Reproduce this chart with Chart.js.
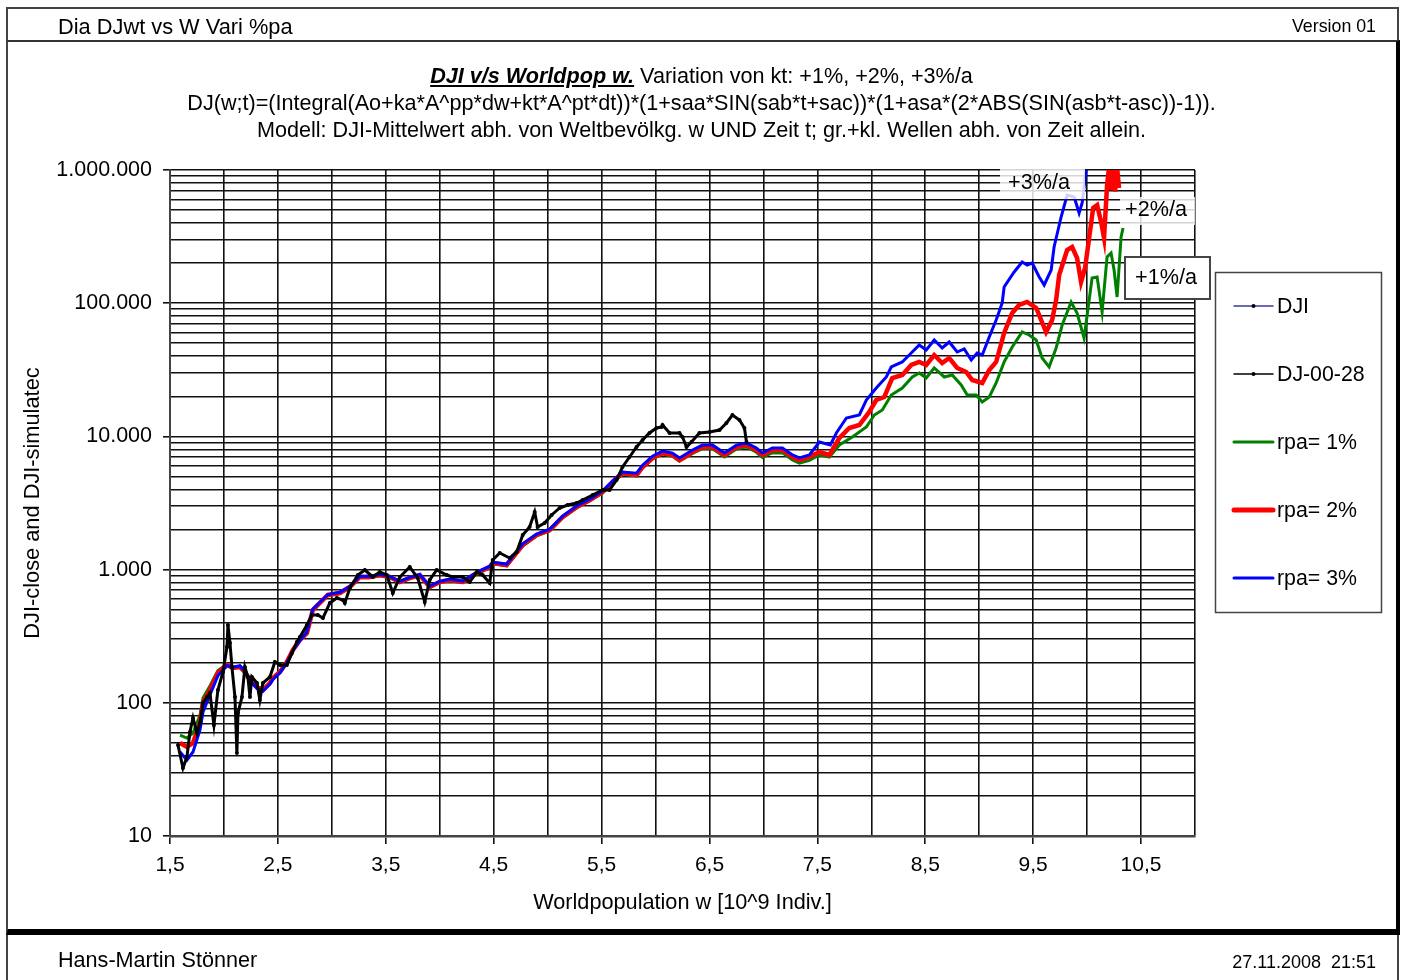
<!DOCTYPE html>
<html>
<head>
<meta charset="utf-8">
<script src="https://cdn.jsdelivr.net/npm/chart.js@4.4.1/dist/chart.umd.min.js"></script>
<style>
html,body{margin:0;padding:0;background:#fff;}
body{width:1405px;height:980px;position:relative;overflow:hidden;font-family:"Liberation Sans",Arial,sans-serif;color:#000;}
#outer{position:absolute;left:6px;top:7px;width:1393px;height:1000px;border:2px solid #444;border-bottom:none;box-sizing:border-box;z-index:0;}
#box{position:absolute;left:6px;top:40px;width:1394px;height:895px;border-top:2px solid #333;border-left:2px solid #444;border-right:4px solid #000;border-bottom:6px solid #000;box-sizing:border-box;z-index:0;}
canvas{position:absolute;left:0;top:0;z-index:1;}
.txt{position:absolute;white-space:pre;z-index:2;line-height:24px;}
.ctr{left:0;width:1403px;text-align:center;font-size:21.6px;line-height:24px;}
</style>
</head>
<body>
<div id="outer"></div>
<div id="box"></div>
<div class="txt" style="left:58px;top:15px;font-size:21.8px;">Dia DJwt vs W Vari %pa</div>
<div class="txt" style="right:29px;top:14px;font-size:17.8px;">Version 01</div>
<div class="txt ctr" style="top:64px;"><b><i><u>DJI v/s Worldpop w.</u></i></b> Variation von kt: +1%, +2%, +3%/a</div>
<div class="txt ctr" style="top:91px;">DJ(w;t)=(Integral(Ao+ka*A^pp*dw+kt*A^pt*dt))*(1+saa*SIN(sab*t+sac))*(1+asa*(2*ABS(SIN(asb*t-asc))-1)).</div>
<div class="txt ctr" style="top:118px;">Modell: DJI-Mittelwert abh. von Weltbevölkg. w UND Zeit t; gr.+kl. Wellen abh. von Zeit allein.</div>
<div class="txt" style="left:58px;top:948px;font-size:21.6px;">Hans-Martin Stönner</div>
<div class="txt" style="right:29px;top:950px;font-size:18px;">27.11.2008  21:51</div>
<canvas id="c" width="1405" height="980"></canvas>
<script>
// ---------- data ----------
const xTitle = 'Worldpopulation w [10^9 Indiv.]';
const yTitle = 'DJI-close and DJI-simulatec';
const seriesLabels = ['DJI', 'DJ-00-28', 'rpa= 1%', 'rpa= 2%', 'rpa= 3%'];
const rateLabels = ['+3%/a', '+2%/a', '+1%/a'];

// DJ close 1900-1928 (world population w, index value)
const w0028 = [1.574,1.620,1.657,1.685,1.713,1.750,1.778,1.806,1.843,1.870,1.907,1.944,1.991,2.028];
const v0028 = [48.2,32.4,39.2,60.4,76.9,59.3,70.5,99.7,110.5,118.5,68.1,124.8,170.3,262];

// DJI close 1928-2008
const wDJI = [2.028,2.037,2.056,2.074,2.102,2.120,2.130,2.167,2.194,2.222,
  2.241,2.259,2.306,2.333,2.361,2.426,2.472,2.519,2.583,2.630,
  2.676,2.704,2.769,2.815,2.870,2.917,2.981,3.046,3.102,3.120,
  3.167,3.241,3.306,3.380,3.444,3.509,3.565,3.630,3.722,3.796,
  3.861,3.907,3.972,4.065,4.120,4.213,4.278,4.343,4.398,4.463,
  4.491,4.556,4.648,4.713,4.769,4.833,4.880,4.907,4.972,5.037,
  5.111,5.185,5.269,5.324,5.417,5.509,5.574,5.639,5.694,5.759,
  5.824,5.880,5.944,6.009,6.056,6.065,6.130,6.222,6.250,6.287,
  6.333,6.407,6.500,6.593,6.657,6.713,6.778,6.824,6.843];
const vDJI = [262,384,281,185.7,110.5,42,83.8,110.5,185.7,156.2,
  110.5,156.2,140.8,105,140.8,156.2,202.5,192.2,192.2,236.5,
  286,312,384,456,456,433,561,612,591,561,
  728,911,993,880,959,911,667,880,1046,865,
  571,836,993,911,880,880,807,959,911,793,
  1181,1332,1222,1356,1819,2088,2707,2088,2238,2570,
  2901,3055,3162,3331,3632,3959,3959,4708,5893,7005,
  8327,9397,10605,11565,11766,12180,10605,10605,9897,8327,
  9078,10605,10790,11170,12605,14475,13280,11565,9078];

// simulated, rpa = 1 %
const wR1 = [1.593,1.657,1.713,1.778,1.806,1.870,1.944,2.028,2.083,2.148,
  2.194,2.241,2.306,2.361,2.426,2.454,2.519,2.583,2.639,2.704,
  2.769,2.824,2.963,3.074,3.167,3.259,3.352,3.444,3.537,3.630,
  3.722,3.815,3.907,4.000,4.093,4.213,4.343,4.463,4.491,4.620,
  4.769,4.898,5.019,5.139,5.269,5.389,5.509,5.602,5.694,5.824,
  5.880,5.972,6.065,6.157,6.222,6.343,6.435,6.528,6.639,6.750,
  6.843,6.935,6.991,7.083,7.176,7.269,7.333,7.426,7.519,7.611,
  7.704,7.824,7.954,8.028,8.102,8.185,8.287,8.380,8.444,8.509,
  8.583,8.676,8.750,8.833,8.889,8.972,9.028,9.093,9.157,9.231,
  9.306,9.398,9.463,9.528,9.583,9.648,9.713,9.769,9.852,9.907,
  9.972,10.019,10.046,10.093,10.139,10.185,10.222,10.250,10.278,10.315,
  10.333];
const vR1 = [57.3,54.4,59.3,81,108.7,133.7,175,195,184,184,
  169,148,132,126,142,155,172,204,250,298,
  332,492,640,660,732,870,870,900,870,800,
  855,900,732,800,826,798,930,1032,1105,1068,
  1505,1790,1950,2440,2900,3270,3760,4470,5220,5040,
  5790,6770,7380,7100,6500,7450,8100,8080,7020,8050,
  8320,7600,6950,7550,7520,6650,6300,6600,7252,7005,
  8619,9897,11766,14475,15780,20450,23090,27930,29920,27440,
  32620,27930,28910,24310,20450,20450,18130,19760,25170,36200,
  46890,60790,57730,52930,38790,33190,46100,68600,102100,84420,
  54800,105700,154600,157300,85870,222300,238200,177500,111300,314100,
  366900];

// simulated, rpa = 2 %
const wR2 = [1.593,1.657,1.713,1.778,1.806,1.870,1.944,2.028,2.083,2.148,
  2.194,2.241,2.306,2.361,2.426,2.454,2.519,2.583,2.639,2.704,
  2.769,2.824,2.963,3.074,3.167,3.259,3.352,3.444,3.537,3.630,
  3.722,3.815,3.907,4.000,4.093,4.213,4.343,4.463,4.491,4.620,
  4.769,4.898,5.019,5.139,5.269,5.389,5.509,5.602,5.694,5.824,
  5.880,5.972,6.065,6.157,6.222,6.343,6.435,6.528,6.639,6.750,
  6.843,6.935,6.991,7.083,7.176,7.269,7.333,7.426,7.519,7.611,
  7.704,7.796,7.889,7.981,8.046,8.120,8.194,8.287,8.370,8.444,
  8.509,8.583,8.657,8.722,8.796,8.880,8.935,9.028,9.093,9.157,
  9.231,9.306,9.370,9.444,9.528,9.620,9.676,9.713,9.741,9.815,
  9.861,9.907,9.944,9.981,10.019,10.056,10.093,10.130,10.157,10.185,
  10.204,10.222,10.241,10.259,10.278,10.296];
const vR2 = [49.9,46.6,49.9,70.5,99.7,124.8,167.4,192.2,182.5,185.7,
  170.3,148.3,131.4,124.8,140.8,153.5,170.3,202.5,249,296,
  334,498,645,667,740,880,880,911,880,807,
  865,911,740,807,836,807,943,1046,1121,1083,
  1530,1819,1983,2483,2951,3331,3824,4548,5312,5132,
  5893,6885,7508,7252,6651,7638,8327,8327,7252,8327,
  8619,7906,7252,7906,7906,7005,6651,7005,7638,7252,
  9728,11565,12180,15250,18760,19760,27440,28910,34360,36200,
  34360,40840,35570,38790,32620,30440,26510,25170,31510,36200,
  59750,84420,96940,102100,92050,60790,74770,105700,162800,250800,
  264200,218400,144300,183800,308700,518400,546000,406900,308700,771600,
  1050000,707700,1050000,690000,1040000,732500];

// simulated, rpa = 3 %
const wR3 = [1.593,1.657,1.713,1.778,1.806,1.870,1.944,2.028,2.083,2.148,
  2.194,2.241,2.306,2.361,2.426,2.454,2.519,2.583,2.639,2.704,
  2.769,2.824,2.963,3.074,3.167,3.259,3.352,3.444,3.537,3.630,
  3.722,3.815,3.907,4.000,4.093,4.213,4.343,4.463,4.491,4.620,
  4.769,4.898,5.019,5.139,5.269,5.389,5.509,5.602,5.694,5.824,
  5.880,5.972,6.065,6.157,6.222,6.343,6.435,6.528,6.639,6.750,
  6.843,6.935,6.991,7.083,7.176,7.269,7.333,7.426,7.519,7.620,
  7.676,7.769,7.889,7.954,8.046,8.139,8.185,8.287,8.370,8.444,
  8.509,8.583,8.657,8.722,8.796,8.861,8.926,8.981,9.028,9.093,
  9.157,9.213,9.231,9.324,9.398,9.444,9.491,9.556,9.602,9.667,
  9.694,9.759,9.815,9.880,9.926,9.954,9.991,10.010];
const vR3 = [42.7,37.2,42.7,62.5,85.3,114.4,160,190,185,190,
  172,146,128,122,138,150,168,200,246,293,
  340,505,650,675,750,890,890,920,890,815,
  875,920,750,815,850,820,955,1060,1135,1100,
  1560,1850,2010,2520,3000,3380,3880,4620,5400,5300,
  6080,7100,7750,7500,6880,7900,8600,8600,7500,8600,
  8900,8180,7500,8180,8180,7250,6900,7250,9078,8619,
  10605,13750,14475,18760,23090,27930,33190,36200,42280,48560,
  44540,52930,46100,51130,43010,45320,37470,42280,40840,55750,
  74770,100300,132400,171500,203900,193600,200400,157300,137000,177500,
  264200,443700,649200,627000,475500,565300,1000000,1400000];

// ---------- chart ----------
const FONT = "'Liberation Sans', Arial, sans-serif";
Chart.defaults.font.family = FONT;
Chart.defaults.color = '#000';

function pts(ws, vs) { return ws.map((w, i) => ({ x: w, y: vs[i] })); }
function isDecade(v) { const l = Math.log10(v); return Math.abs(l - Math.round(l)) < 1e-9; }
function isXLabel(v) { const r = (v - 1.5) % 1; return Math.abs(r) < 1e-6 || Math.abs(r - 1) < 1e-6; }
function fmtDe(v) { return String(Math.round(v)).replace(/\B(?=(\d{3})+(?!\d))/g, '.'); }

const yTicks = [];
for (let e = 1; e <= 5; e++) for (let s = 1; s <= 9; s++) yTicks.push(s * Math.pow(10, e));
yTicks.push(1000000);

const datasets = [
  { label: seriesLabels[0], data: pts(wDJI, vDJI), borderColor: '#000', backgroundColor: '#000',
    borderWidth: 3, pointRadius: 2, pointBorderWidth: 0, legendColor: '#3a3a9a', legendWidth: 1.5, legendDot: true, order: 0 },
  { label: seriesLabels[1], data: pts(w0028, v0028), borderColor: '#000', backgroundColor: '#000',
    borderWidth: 3, pointRadius: 2, pointBorderWidth: 0, legendColor: '#000', legendWidth: 1.5, legendDot: true, order: 0 },
  { label: seriesLabels[2], data: pts(wR1, vR1), borderColor: '#008000', borderWidth: 3, pointRadius: 0, legendWidth: 3, order: 3 },
  { label: seriesLabels[3], data: pts(wR2, vR2), borderColor: '#ff0000', borderWidth: 4.5, pointRadius: 0, legendWidth: 5, order: 2 },
  { label: seriesLabels[4], data: pts(wR3, vR3), borderColor: '#0000ff', borderWidth: 3, pointRadius: 0, legendWidth: 3, order: 1 }
];
datasets.forEach(d => { d.fill = false; d.tension = 0; d.clip = 0; });

const overlayPlugin = {
  id: 'overlay',
  afterDatasetsDraw(chart) {
    const ctx = chart.ctx;
    const boxes = [
      { x: 1000, y: 168, w: 85, h: 31, tx: 1039, ty: 183, border: false },
      { x: 1120, y: 197, w: 75, h: 28, tx: 1156, ty: 210, border: false },
      { x: 1125, y: 257, w: 85, h: 42, tx: 1166, ty: 278, border: true }
    ];
    ctx.save();
    boxes.forEach((b, i) => {
      ctx.fillStyle = b.border ? '#fff' : 'rgba(255,255,255,0.82)';
      ctx.fillRect(b.x, b.y, b.w, b.h);
      if (b.border) { ctx.strokeStyle = '#444'; ctx.lineWidth = 2; ctx.strokeRect(b.x, b.y, b.w, b.h); }
      ctx.fillStyle = '#000';
      ctx.font = '21.6px ' + FONT;
      ctx.textAlign = 'center'; ctx.textBaseline = 'middle';
      ctx.fillText(rateLabels[i], b.tx, b.ty);
    });
    ctx.restore();
  },
  afterDraw(chart) {
    const ctx = chart.ctx;
    ctx.save();
    ctx.fillStyle = '#fff';
    ctx.fillRect(1215, 272, 166, 340);
    ctx.strokeStyle = '#444'; ctx.lineWidth = 1.5;
    ctx.strokeRect(1215.5, 272.5, 166, 340);
    const ys = [306, 374, 442, 510, 578];
    chart.data.datasets.forEach((d, i) => {
      const y = ys[i];
      ctx.strokeStyle = d.legendColor || d.borderColor;
      ctx.lineWidth = d.legendWidth;
      ctx.lineCap = 'round';
      ctx.beginPath(); ctx.moveTo(1234, y); ctx.lineTo(1273, y); ctx.stroke();
      if (d.legendDot) {
        ctx.fillStyle = '#000';
        ctx.beginPath(); ctx.arc(1253.5, y, 2, 0, Math.PI * 2); ctx.fill();
      }
      ctx.fillStyle = '#000';
      ctx.font = '21.3px ' + FONT;
      ctx.textAlign = 'left'; ctx.textBaseline = 'middle';
      ctx.fillText(d.label, 1277, y + 1);
    });
    ctx.restore();
  }
};

new Chart(document.getElementById('c'), {
  type: 'line',
  data: { datasets },
  options: {
    responsive: false,
    animation: false,
    devicePixelRatio: 1,
    parsing: true,
    layout: { padding: { left: 10, top: 170, right: 210, bottom: 64 } },
    plugins: { legend: { display: false }, tooltip: { enabled: false }, title: { display: false } },
    scales: {
      x: {
        type: 'linear', min: 1.5, max: 11,
        ticks: {
          stepSize: 0.5, autoSkip: false, maxRotation: 0, padding: 9,
          font: { size: 21 }, color: '#000',
          callback: v => isXLabel(v) ? v.toFixed(1).replace('.', ',') : ''
        },
        grid: {
          color: '#111', lineWidth: 1.6, tickLength: 8,
          tickColor: c => (c.tick && isXLabel(c.tick.value)) ? '#111' : 'rgba(0,0,0,0)'
        },
        border: { color: '#444', width: 2.5 },
        title: { display: true, text: xTitle, font: { size: 21.7 }, color: '#000', padding: { top: 0, bottom: 0 } },
        afterFit: s => { s.height = 80; }
      },
      y: {
        type: 'logarithmic', min: 10, max: 1000000,
        afterBuildTicks: s => { s.ticks = yTicks.map(v => ({ value: v, major: isDecade(v) })); },
        ticks: {
          autoSkip: false, padding: 11, font: { size: 21.5 }, color: '#000',
          callback: v => isDecade(v) ? fmtDe(v) : ''
        },
        grid: {
          color: '#111', lineWidth: 1.6, tickLength: 7,
          tickColor: c => (c.tick && isDecade(c.tick.value)) ? '#111' : 'rgba(0,0,0,0)'
        },
        border: { color: '#444', width: 2 },
        title: { display: true, text: yTitle, font: { size: 21.8 }, color: '#000', padding: { top: 10, bottom: 0 } },
        afterFit: s => { s.width = 160; }
      }
    }
  },
  plugins: [overlayPlugin]
});
</script>
</body>
</html>
